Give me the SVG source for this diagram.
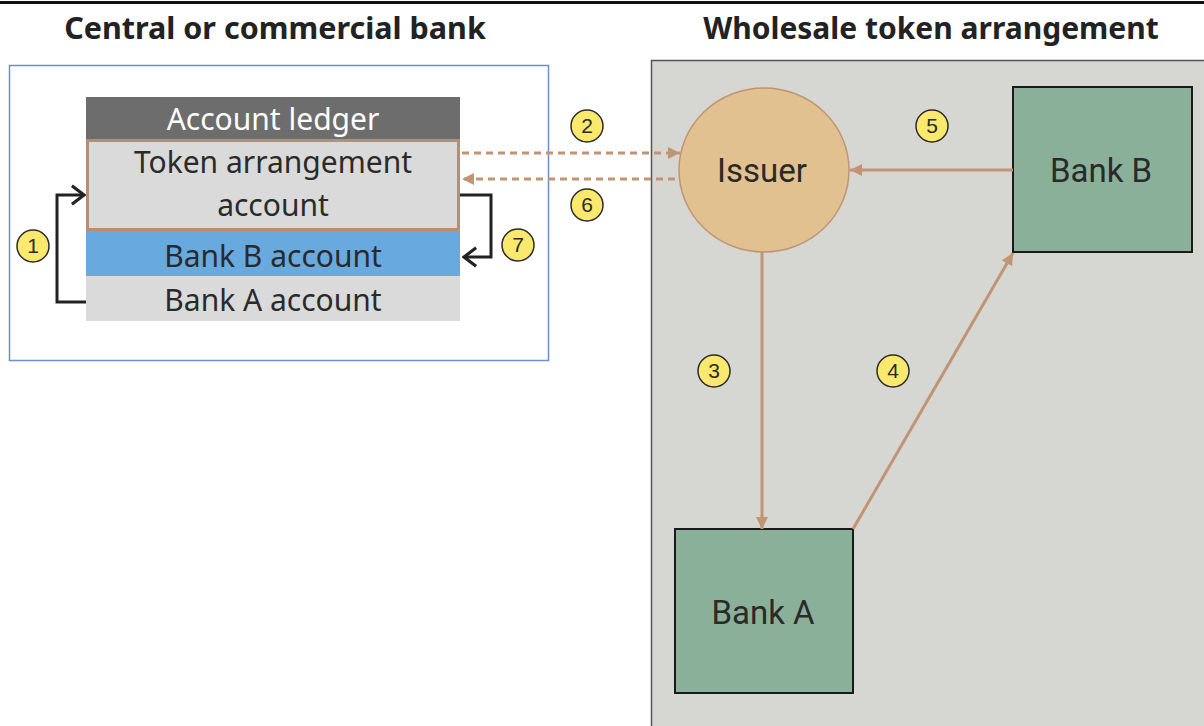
<svg xmlns="http://www.w3.org/2000/svg" width="1204" height="726" viewBox="0 0 1204 726">
<defs>
<style>
.title{font-family:"Noto Sans","Open Sans",sans-serif;font-weight:bold;font-size:30.5px;fill:#222;text-anchor:middle}
.led{font-family:"Noto Sans","Open Sans",sans-serif;font-size:30px;fill:#2a2a2a;text-anchor:middle}
.node{font-family:Roboto,"Liberation Sans",sans-serif;font-size:33px;fill:#2a2a2a;text-anchor:middle}
.badge circle{fill:#fbe96e;stroke:#2a2a2a;stroke-width:1.5}
.badge text{font-family:"Liberation Sans",Arial,sans-serif;font-size:21px;fill:#2a2a2a;text-anchor:middle}
.brown{stroke:#c19473;stroke-width:3;fill:none}
.dash{stroke:#c19473;stroke-width:3;fill:none;stroke-dasharray:7 5}
.blk{stroke:#222;stroke-width:3;fill:none}
</style>
<marker id="ah" viewBox="0 0 10 10" refX="10" refY="5" markerWidth="12" markerHeight="12" markerUnits="userSpaceOnUse" orient="auto">
<path d="M0,0 L10,5 L0,10 z" fill="#c19473"/>
</marker>
<marker id="ahb" viewBox="0 0 10 10" refX="9" refY="5" markerWidth="22" markerHeight="22" markerUnits="userSpaceOnUse" orient="auto">
<path d="M3.5,0.8 L9,5 L3.5,9.2" fill="none" stroke="#222" stroke-width="1.4"/>
</marker>
</defs>
<rect width="1204" height="726" fill="#fff"/>
<line x1="0" y1="2.5" x2="1204" y2="2.5" stroke="#111" stroke-width="3"/>
<text class="title" x="275" y="39">Central or commercial bank</text>
<text class="title" x="931" y="39" style="font-size:30px">Wholesale token arrangement</text>

<g id="bank-frame">
<rect x="9.5" y="65.5" width="539" height="295" fill="#fff" stroke="#6b8fc8" stroke-width="1.5"/>
</g>
<g id="wholesale-frame">
<rect x="651.5" y="60.5" width="560" height="680" fill="#d6d6d2" stroke="#555" stroke-width="1.5"/>
</g>

<g id="ledger">
<rect x="86" y="97" width="374" height="42" fill="#6d6d6d"/>
<text class="led" x="273" y="130" style="fill:#fff">Account ledger</text>
</g>
<g id="token-account">
<rect x="87.5" y="140.5" width="371" height="89" fill="#d9dad9" stroke="#b98e6e" stroke-width="3"/>
<text class="led" x="273" y="173">Token arrangement</text>
<text class="led" x="273" y="216">account</text>
</g>
<g id="bank-b-account">
<rect x="86" y="231" width="374" height="45" fill="#68a9de"/>
<text class="led" x="273" y="267">Bank B account</text>
</g>
<g id="bank-a-account">
<rect x="86" y="276" width="374" height="45" fill="#d9dad9"/>
<text class="led" x="273" y="311">Bank A account</text>
</g>

<g id="issuer">
<ellipse cx="764" cy="170" rx="85" ry="82" fill="#e2c190" stroke="#c19473" stroke-width="1.5"/>
<text class="node" x="762" y="182">Issuer</text>
</g>
<g id="bank-b">
<rect x="1013" y="87" width="179" height="165" fill="#8ab09a" stroke="#1a1a1a" stroke-width="2"/>
<text class="node" x="1101" y="182">Bank B</text>
</g>
<g id="bank-a">
<rect x="675" y="529" width="178" height="164" fill="#8ab09a" stroke="#1a1a1a" stroke-width="2"/>
<text class="node" x="763" y="624">Bank A</text>
</g>

<g id="connectors">
<polyline class="blk" points="86,302 57,302 57,195 84,195" marker-end="url(#ahb)"/>
<polyline class="blk" points="460,195 491,195 491,257 464,257" marker-end="url(#ahb)"/>
<line class="dash" x1="462" y1="153" x2="680" y2="153" marker-end="url(#ah)"/>
<line class="dash" x1="675" y1="179" x2="462" y2="179" marker-end="url(#ah)"/>
<line class="brown" x1="762" y1="252" x2="762" y2="529" marker-end="url(#ah)"/>
<line class="brown" x1="853" y1="529" x2="1013" y2="253" marker-end="url(#ah)"/>
<line class="brown" x1="1013" y1="170" x2="850" y2="170" marker-end="url(#ah)"/>
</g>

<g id="badges">
<g class="badge"><circle cx="33" cy="246" r="16"/><text x="33" y="253">1</text></g>
<g class="badge"><circle cx="587" cy="126" r="16"/><text x="587" y="133">2</text></g>
<g class="badge"><circle cx="714" cy="371" r="16"/><text x="714" y="378">3</text></g>
<g class="badge"><circle cx="893" cy="371" r="16"/><text x="893" y="378">4</text></g>
<g class="badge"><circle cx="932" cy="126" r="16"/><text x="932" y="133">5</text></g>
<g class="badge"><circle cx="587" cy="205" r="16"/><text x="587" y="212">6</text></g>
<g class="badge"><circle cx="518" cy="245" r="16"/><text x="518" y="252">7</text></g>
</g>
</svg>
